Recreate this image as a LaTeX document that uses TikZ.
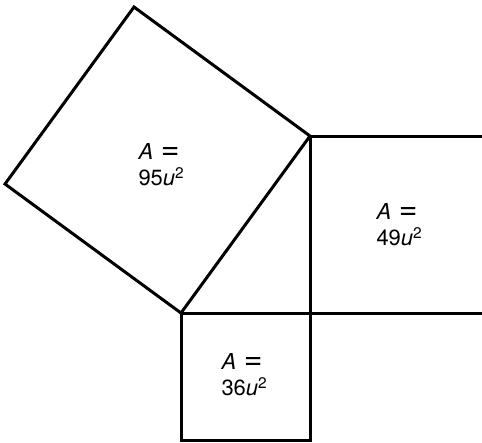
\documentclass[tikz,border=0pt]{standalone}
\usepackage{fontspec}
\setmainfont{TeX Gyre Heros}
\usetikzlibrary{positioning}

% a wider equals sign, as printed
\newcommand{\areaeq}{{\fontsize{32}{26}\selectfont=}}

\begin{document}
\begin{tikzpicture}[
        x=1pt, y=-1pt,
        line width=3pt,
        line join=miter,
        area/.style={
            anchor=north west,
            inner sep=0pt,
            align=left,
            font=\fontsize{22}{26}\selectfont
        },
    ]
    \useasboundingbox (0,0) rectangle (482,442);

    %============================================================
    % Right triangle
    %============================================================
    \coordinate (C) at (181,313);   % right angle
    \coordinate (B) at (310,313);
    \coordinate (T) at (310,136);

    %============================================================
    % Square on the hypotenuse
    %============================================================
    \coordinate (HL) at (5,184);
    \coordinate (HT) at (134,7);
    \draw (C) -- (HL) -- (HT) -- (T) -- cycle;

    %============================================================
    % Square on the long leg (runs past the right edge)
    %============================================================
    \coordinate (TR) at (482,136);
    \coordinate (BR) at (482,313);
    \draw (TR) -- (T) -- (B);
    \draw (C) -- (BR);

    %============================================================
    % Square on the short leg (runs past the bottom edge)
    %============================================================
    \coordinate (CB) at (181,440);
    \coordinate (BB) at (310,440);
    \coordinate (BE) at (310,442);
    \draw (C) -- (CB) -- (BB);
    \draw (B) -- (BE);

    % Areas
    \node[area] (A95) at (137,142) {\textit{A}\hspace{0.35em}\areaeq\\95\textit{u}\textsuperscript{2}};
    \node[area] (A49) at (375,202) {\textit{A}\hspace{0.35em}\areaeq\\49\textit{u}\textsuperscript{2}};
    \node[area] (A36) at (220,352) {\textit{A}\hspace{0.35em}\areaeq\\36\textit{u}\textsuperscript{2}};

\end{tikzpicture}
\end{document}
